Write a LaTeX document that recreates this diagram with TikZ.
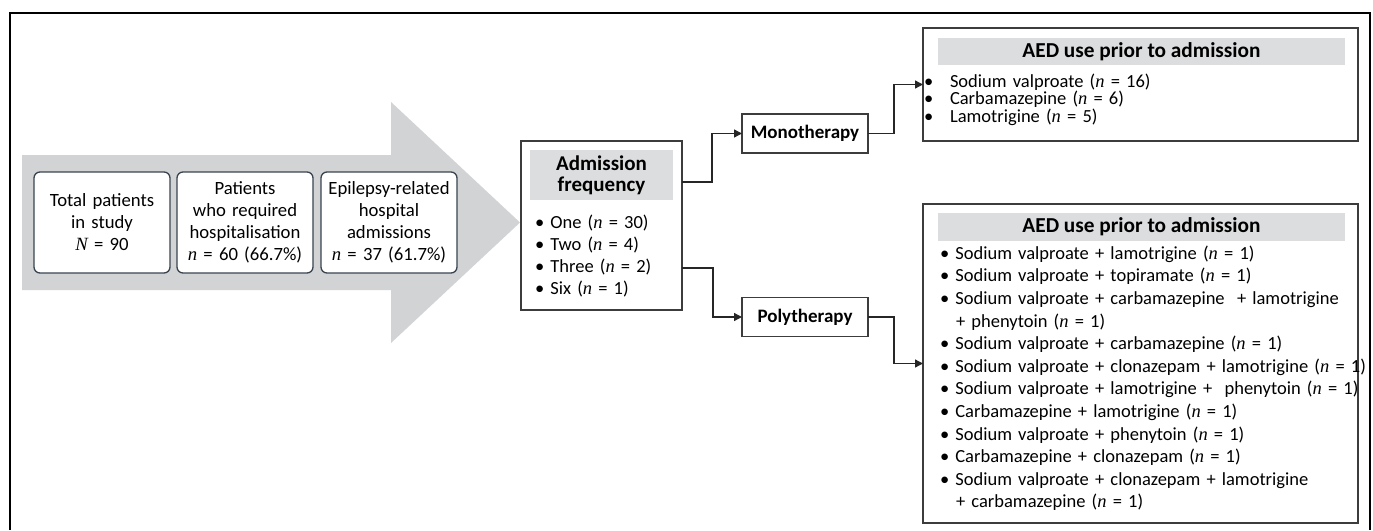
\documentclass[tikz,border=0pt]{standalone}
\usepackage{fontspec}
\setmainfont{Carlito}
\newfontfamily\tms{Liberation Serif}
\usetikzlibrary{arrows.meta}
\newcommand{\nv}{{\tms\itshape n}}
\newcommand{\Nv}{{\tms\itshape N}}
\definecolor{arrowgray}{HTML}{D1D3D4}
\definecolor{headgray}{HTML}{DCDDDE}
\definecolor{slate}{HTML}{3A4450}
\definecolor{boxline}{HTML}{3C3C3C}
\begin{document}
\begin{tikzpicture}[x=1pt,y=-1pt,
  every node/.style={inner sep=0pt, outer sep=0pt},
  body/.style={font=\fontsize{18.7}{22}\selectfont},
  rbox/.style={body, draw=slate, line width=1.3pt, rounded corners=6pt, fill=white,
    minimum width=136pt, minimum height=101pt, text width=134pt, align=center},
  sbox/.style={draw=boxline, line width=1.4pt, fill=white},
  head/.style={fill=headgray, font=\bfseries\fontsize{21}{21}\selectfont, align=center},
  aedhead/.style={head, font=\bfseries\fontsize{21.3}{21}\selectfont},
  tbox/.style={sbox, minimum width=126pt, minimum height=39pt, font=\bfseries\fontsize{19}{22}\selectfont},
  conn/.style={draw=black!85, line width=1.3pt, -{Triangle[length=8pt,width=8pt]}},
]
\useasboundingbox (0,0) rectangle (1373,530);
\draw[line width=1.4pt] (10,530) -- (10,13) -- (1370,13) -- (1370,530);

% big gray arrow
\fill[arrowgray] (22,155) -- (391,155) -- (391,102) -- (520,222.5) -- (391,343) -- (391,290) -- (22,290) -- cycle;

\node[rbox] (tot) at (102,222.5) {Total patients\\in study\\\Nv{} = 90};
\node[rbox] (hosp) at (245,222.5) {Patients\\who required\\hospitalisation\\\nv{} = 60 (66.7\%)};
\node[rbox] (epi) at (389,222.5) {Epilepsy-related\\hospital\\admissions\\\nv{} = 37 (61.7\%)};

% admission frequency
\node[sbox, minimum width=161pt, minimum height=169pt] (freq) at (601.5,225.5) {};
\node[head, minimum width=143pt, minimum height=50pt, text width=143pt] (freqh) at (601.5,175) {Admission\\frequency};
\node[anchor=base west, text width=140pt, align=left,
  font=\fontsize{18.5}{22.2}\selectfont] (freqi) at (535,228)
  {• One (\nv{} = 30)\\• Two (\nv{} = 4)\\• Three (\nv{} = 2)\\• Six (\nv{} = 1)};

% therapy boxes
\node[tbox] (mono) at (805,133.5) {Monotherapy};
\node[tbox] (poly) at (805,317) {Polytherapy};

% AED monotherapy
\node[sbox, minimum width=435pt, minimum height=113pt] (aedm) at (1140.5,84.5) {};
\node[aedhead, minimum width=407pt, minimum height=27pt] (aedmh) at (1141.5,51.5) {AED use prior to admission};
\node[anchor=base west, text width=420pt, align=left,
  font=\fontsize{18.5}{17.7}\selectfont] (aedmi) at (924,87)
  {\makebox[26pt][l]{•}Sodium valproate (\nv{} = 16)\\
   \makebox[26pt][l]{•}Carbamazepine (\nv{} = 6)\\
   \makebox[26pt][l]{•}Lamotrigine (\nv{} = 5)};

% AED polytherapy
\node[sbox, minimum width=435pt, minimum height=319pt] (aedp) at (1140.5,363.5) {};
\node[aedhead, minimum width=407pt, minimum height=28pt] (aedph) at (1141.5,227) {AED use prior to admission};
\node[anchor=base west, text width=430pt, align=left,
  font=\fontsize{18.5}{22.6}\selectfont] (aedpi) at (940,259.3)
  {• Sodium valproate + lamotrigine (\nv{} = 1)\\
   • Sodium valproate + topiramate (\nv{} = 1)\\
   • Sodium valproate + carbamazepine \ + lamotrigine\\
   \hspace*{16pt}+ phenytoin (\nv{} = 1)\\
   • Sodium valproate + carbamazepine (\nv{} = 1)\\
   • Sodium valproate + clonazepam + lamotrigine (\nv{} = 1)\\
   • Sodium valproate + lamotrigine + \ phenytoin (\nv{} = 1)\\
   • Carbamazepine + lamotrigine (\nv{} = 1)\\
   • Sodium valproate + phenytoin (\nv{} = 1)\\
   • Carbamazepine + clonazepam (\nv{} = 1)\\
   • Sodium valproate + clonazepam + lamotrigine\\
   \hspace*{16pt}+ carbamazepine (\nv{} = 1)};

% connectors
\draw[conn] ([yshift=43.5pt]freq.east) -- ++(30,0) |- (mono.west);
\draw[conn] ([yshift=-42.5pt]freq.east) -- ++(31,0) |- (poly.west);
\draw[conn] (mono.east) -- ++(26,0) |- (aedm.west);
\draw[conn] (poly.east) -- ++(26,0) |- (aedp.west);
\end{tikzpicture}
\end{document}
